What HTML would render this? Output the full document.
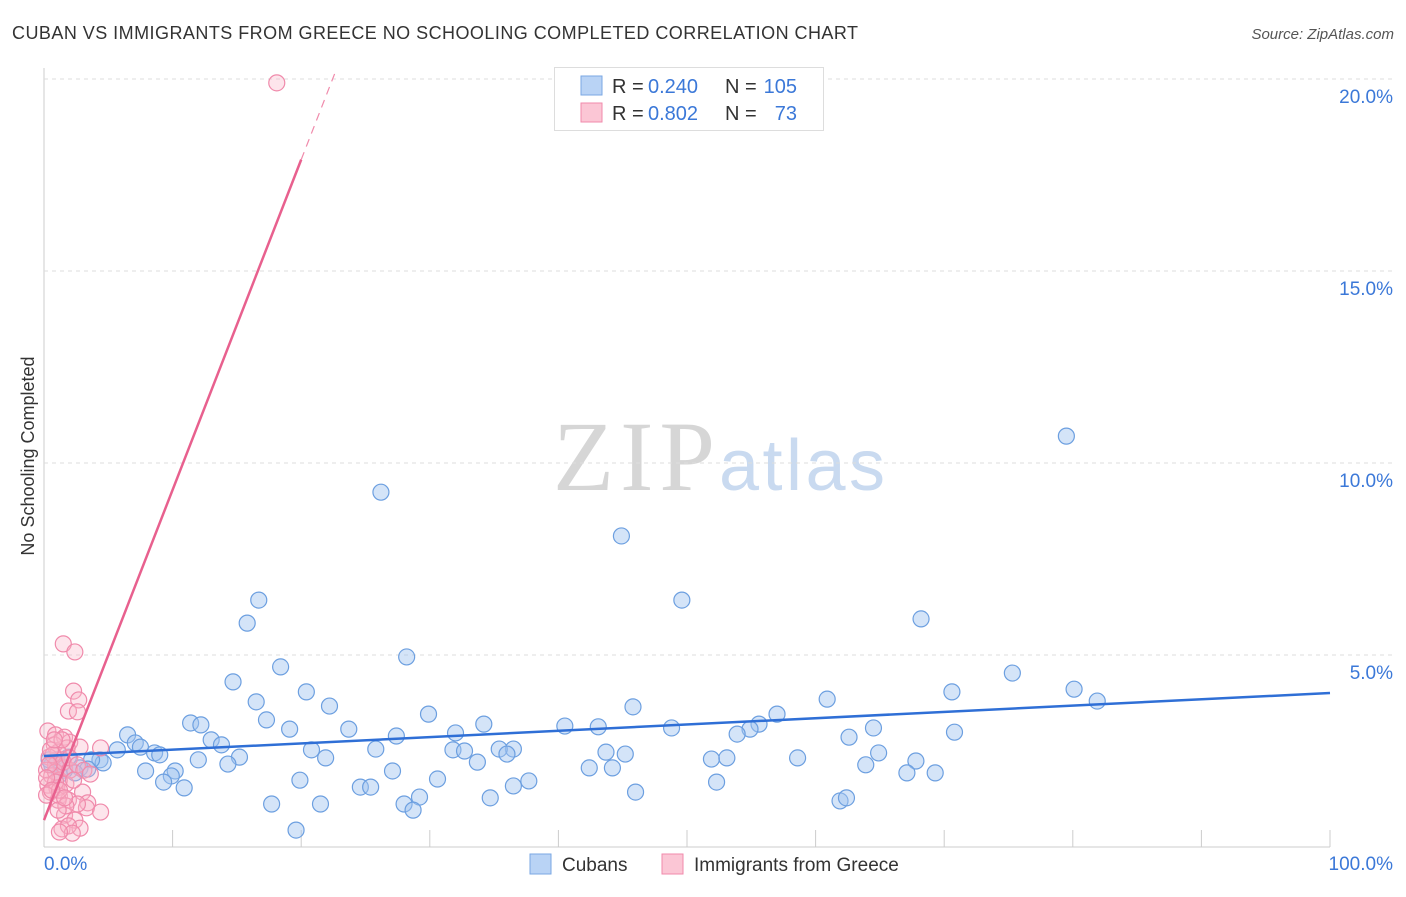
<!DOCTYPE html>
<html><head><meta charset="utf-8"><style>
body{margin:0;background:#fff;font-family:"Liberation Sans",sans-serif;}
</style></head><body>
<svg id="c" width="1406" height="892" font-family="Liberation Sans, sans-serif">
<text x="12" y="39" font-size="18" fill="#333" textLength="846">CUBAN VS IMMIGRANTS FROM GREECE NO SCHOOLING COMPLETED CORRELATION CHART</text>
<text x="1394" y="39" font-size="15" fill="#555" font-style="italic" text-anchor="end">Source: ZipAtlas.com</text>
<text transform="translate(34,456) rotate(-90)" font-size="18" fill="#333" text-anchor="middle">No Schooling Completed</text>
<text x="553" y="490" font-size="100" fill="#d6d6d6" style="font-family:'Liberation Serif',serif" textLength="162">ZIP</text>
<text x="719" y="490" font-size="72" fill="#c9daf0" textLength="166">atlas</text>
<g id="grid"></g><g id="pts"></g><g id="trend"></g>
<g>
<rect x="554.5" y="67.5" width="269" height="63" fill="#fff" stroke="#ddd"/>
<rect x="581" y="76" width="21" height="19" fill="#b9d3f5" stroke="#7aa7e3"/>
<rect x="581" y="103" width="21" height="19" fill="#fbc6d5" stroke="#f08aab"/>
<text x="612" y="93" font-size="20" fill="#333">R =</text>
<text x="648" y="93" font-size="20" fill="#3b78d8">0.240</text>
<text x="725" y="93" font-size="20" fill="#333">N =</text>
<text x="797" y="93" font-size="20" fill="#3b78d8" text-anchor="end">105</text>
<text x="612" y="120" font-size="20" fill="#333">R =</text>
<text x="648" y="120" font-size="20" fill="#3b78d8">0.802</text>
<text x="725" y="120" font-size="20" fill="#333">N =</text>
<text x="797" y="120" font-size="20" fill="#3b78d8" text-anchor="end">73</text>
</g>
<g>
<rect x="530" y="854" width="21" height="20" fill="#b9d3f5" stroke="#7aa7e3"/>
<text x="562" y="871" font-size="19" fill="#333">Cubans</text>
<rect x="662" y="854" width="21" height="20" fill="#fbc6d5" stroke="#f08aab"/>
<text x="694" y="871" font-size="19" fill="#333">Immigrants from Greece</text>
</g>
</svg>
<script>
const yTicks=[5,10,15,20];
const xTickLabels=["0.0%","100.0%"];
const cubanX=[79.5,26.2,44.9,49.6,16.7,15.8,68.2,28.2,18.4,75.3,14.7,20.4,80.1,70.6,60.9,81.9,16.5,22.2,45.8,29.9,57.0,11.4,12.2,17.3,34.2,40.5,43.1,55.6,54.9,64.5,19.1,23.7,32.0,48.8,70.8,6.5,27.4,53.9,62.6,7.1,13.0,13.8,5.7,7.5,8.6,9.0,25.8,36.5,31.8,32.7,35.4,36.0,43.7,45.2,64.9,20.8,4.35,4.6,3.7,2.8,3.4,12.0,15.2,14.3,21.9,51.9,53.1,58.6,67.8,63.9,33.7,42.4,44.2,7.9,10.2,9.9,27.1,67.1,69.3,19.9,30.6,37.7,36.5,52.3,9.3,10.9,24.6,25.4,46.0,29.2,17.7,21.5,28.0,34.7,61.9,62.4,28.7,19.6,2.4,1.6,1.0,0.6,1.9,1.2,0.4];
const cubanY=[10.7,9.24,8.1,6.43,6.43,5.83,5.94,4.95,4.69,4.53,4.30,4.04,4.11,4.04,3.85,3.80,3.78,3.67,3.65,3.46,3.46,3.23,3.18,3.31,3.20,3.15,3.13,3.20,3.07,3.10,3.07,3.07,2.97,3.10,2.99,2.92,2.89,2.94,2.86,2.71,2.79,2.66,2.53,2.60,2.45,2.40,2.55,2.55,2.53,2.50,2.55,2.42,2.47,2.42,2.45,2.53,2.27,2.19,2.27,2.06,2.03,2.27,2.34,2.16,2.32,2.29,2.32,2.32,2.24,2.14,2.21,2.06,2.06,1.98,1.98,1.85,1.98,1.93,1.93,1.74,1.77,1.72,1.59,1.69,1.69,1.54,1.56,1.56,1.43,1.30,1.12,1.12,1.12,1.28,1.20,1.28,0.96,0.44,1.93,2.0,2.27,2.14,2.34,1.88,2.27];
const greeceX=[18.1,1.5,2.4,2.3,2.7,1.9,2.6,0.3,0.9,1.6,2.0,2.8,1.8,0.8,1.1,0.4,1.4,0.9,0.2,1.6,0.6,1.2,0.3,1.0,1.7,0.5,1.2,1.9,3.0,3.4,3.3,4.4,2.6,4.4,1.6,2.4,2.8,1.4,1.9,2.2,1.2,0.9,0.7,1.5,2.0,0.2,1.1,1.7,0.5,1.4,2.0,2.6,3.1,3.6,0.9,1.2,0.4,0.2,0.6,1.1,2.3,1.6,0.8];
const greeceY=[19.9,5.29,5.08,4.06,3.83,3.54,3.52,3.02,2.92,2.86,2.73,2.60,2.58,2.66,2.47,2.34,2.27,2.14,2.0,2.06,1.85,1.74,1.61,1.54,1.64,1.43,1.33,1.22,1.43,1.15,1.02,0.91,1.12,2.58,0.83,0.70,0.49,0.47,0.55,0.36,0.39,1.95,2.40,2.21,2.0,1.35,1.22,1.07,2.53,2.79,2.32,2.14,2.0,1.90,1.69,1.48,2.14,1.80,1.48,0.96,1.74,1.28,2.79];
const cubanTrend=[2.37,4.01];
const greeceTrend=[0.70,0.86];
const NS="http://www.w3.org/2000/svg";
const X=v=>44+v*12.86, Y=v=>847-v*38.4;
function mk(t,a,p){const e=document.createElementNS(NS,t);for(const k in a)e.setAttribute(k,a[k]);p.appendChild(e);return e;}
const g=document.getElementById('grid');
mk('line',{x1:44,y1:68,x2:44,y2:847,stroke:'#ccc'},g);
mk('line',{x1:44,y1:847,x2:1330,y2:847,stroke:'#ccc'},g);
yTicks.forEach(t=>{mk('line',{x1:44,y1:Y(t),x2:1394,y2:Y(t),stroke:'#ddd','stroke-dasharray':'4,4'},g);
const tx=mk('text',{x:1393,y:Y(t)+24,'font-size':19,fill:'#3b78d8','text-anchor':'end'},g);tx.textContent=t.toFixed(1)+'%';

});
for(let i=1;i<=10;i++)mk('line',{x1:X(i*10),y1:830,x2:X(i*10),y2:847,stroke:'#ccc'},g);
const l0=mk('text',{x:44,y:870,'font-size':19,fill:'#3b78d8'},g);l0.textContent=xTickLabels[0];


const l1=mk('text',{x:1393,y:870,'font-size':19,fill:'#3b78d8','text-anchor':'end'},g);l1.textContent=xTickLabels[1];


const p=document.getElementById('pts');
cubanX.forEach((x,i)=>{const c=mk('circle',{cx:X(x),cy:Y(cubanY[i]),r:8,fill:'rgba(160,196,240,0.45)',stroke:'#6c9fe0','stroke-width':1.2},p);

});
greeceX.forEach((x,i)=>{const c=mk('circle',{cx:X(x),cy:Y(greeceY[i]),r:8,fill:'rgba(248,180,200,0.35)',stroke:'#f08aab','stroke-width':1.2},p);

});
const tr=document.getElementById('trend');
const b=mk('line',{x1:X(0),y1:Y(cubanTrend[0]),x2:X(100),y2:Y(cubanTrend[1]),stroke:'#2f6fd6','stroke-width':2.5},tr);


const pk=mk('line',{x1:X(0),y1:Y(greeceTrend[0]),x2:X(20),y2:Y(greeceTrend[0]+greeceTrend[1]*20),stroke:'#e8608e','stroke-width':2.5},tr);


const pd=mk('line',{x1:X(20),y1:Y(greeceTrend[0]+greeceTrend[1]*20),x2:X(22.6),y2:Y(greeceTrend[0]+greeceTrend[1]*22.6),stroke:'#f08aab','stroke-width':1.2,'stroke-dasharray':'8,6'},tr);


</script>
</body></html>
